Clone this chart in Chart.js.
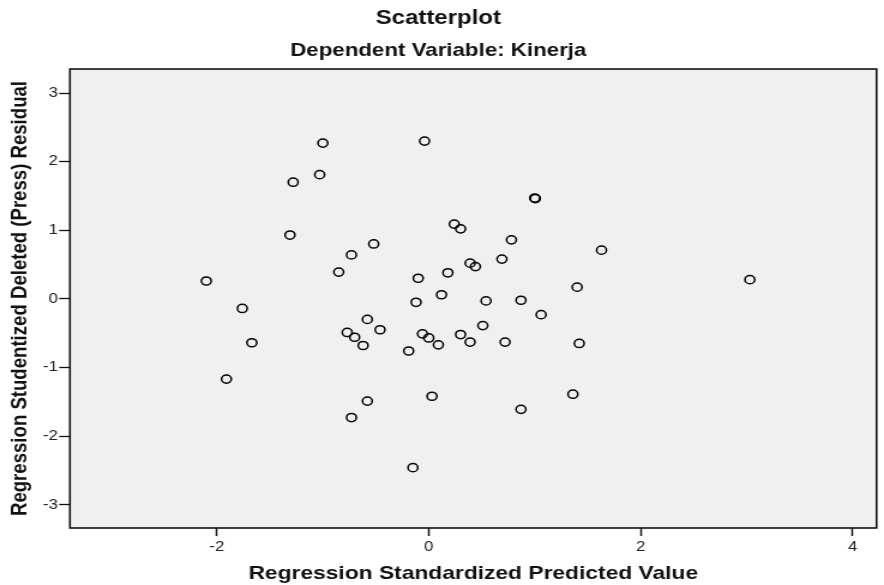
<!DOCTYPE html>
<html>
<head>
<meta charset="utf-8">
<script src="https://cdn.jsdelivr.net/npm/chart.js@4.4.0/dist/chart.umd.min.js"></script>
<style>
    html, body { margin: 0; padding: 0; background: #fff; overflow: hidden; }
    /* the reference picture is stretched sideways, so the canvas is too */
    #wrap { width: 737px; height: 585px; transform: scaleX(1.19946); transform-origin: 0 0; }
</style>
</head>
<body>
<div id="wrap"><canvas id="grafico" width="737" height="585"></canvas></div>
<script>
// Regression Standardized Predicted Value
const xValues = [
    -1.00, -0.04, -1.28, -1.03, -1.31, -0.52, -0.73, -0.85, -2.10, -1.76,
    0.24, 0.30, 0.39, 0.44, -0.10, 0.18, 0.12, -0.12, -0.58, -1.67,
    -1.91, -0.46, -0.77, -0.70, -0.62, -0.19, -0.06, 0.00, 0.09, 0.30,
    0.39, 0.03, -0.58, -0.73, -0.15, 1.00, 1.005, 0.78, 1.63, 0.69,
    0.54, 0.87, 1.40, 3.03, 1.06, 0.51, 0.72, 1.42, 1.36, 0.87,
];
// Regression Studentized Deleted (Press) Residual
const yValues = [
    2.27, 2.30, 1.70, 1.81, 0.93, 0.80, 0.64, 0.39, 0.26, -0.14,
    1.09, 1.02, 0.52, 0.47, 0.30, 0.38, 0.06, -0.05, -0.30, -0.64,
    -1.17, -0.45, -0.49, -0.56, -0.68, -0.76, -0.51, -0.57, -0.67, -0.52,
    -0.63, -1.42, -1.49, -1.73, -2.46, 1.47, 1.46, 0.86, 0.71, 0.58,
    -0.03, -0.02, 0.17, 0.28, -0.23, -0.39, -0.63, -0.65, -1.39, -1.61,
];
const xTicks = [-2, 0, 2, 4];
const yTicks = [-3, -2, -1, 0, 1, 2, 3];

const fontFamily = "'Liberation Sans', Arial, sans-serif";

const points = xValues.map((x, i) => ({ x: x, y: yValues[i] }));

// grey plot area with a black frame round it
const plotFrame = {
    id: "plotFrame",
    beforeDraw(chart) {
        const { ctx, chartArea: a } = chart;
        ctx.save();
        ctx.fillStyle = "#f0f0f0";
        ctx.fillRect(a.left, a.top, a.right - a.left, a.bottom - a.top);
        ctx.restore();
    },
    afterDatasetsDraw(chart) {
        const { ctx, chartArea: a } = chart;
        ctx.save();
        ctx.strokeStyle = "#111";
        ctx.lineWidth = 1.6;
        ctx.strokeRect(a.left, a.top, a.right - a.left, a.bottom - a.top);
        ctx.restore();
    },
};

new Chart(document.getElementById("grafico"), {
    type: "scatter",
    data: {
        datasets: [{
            data: points,
            pointRadius: 4.1,
            pointHoverRadius: 4.1,
            pointBorderWidth: 1.5,
            pointBorderColor: "#000",
            pointBackgroundColor: "rgba(0,0,0,0)",
        }],
    },
    options: {
        responsive: false,
        animation: false,
        layout: { padding: { left: 0, right: 6.2, top: 0, bottom: 0 } },
        scales: {
            x: {
                type: "linear",
                min: -3.387,
                max: 4.226,
                afterBuildTicks: (scale) => { scale.ticks = xTicks.map((v) => ({ value: v })); },
                afterFit: (scale) => { scale.height = 57; },
                border: { display: false },
                grid: { drawOnChartArea: false, drawTicks: true, tickLength: 8, tickColor: "#111", tickWidth: 1.5 },
                ticks: { padding: 3, color: "#222", font: { family: fontFamily, size: 14 } },
                title: {
                    display: true,
                    text: "Regression Standardized Predicted Value",
                    color: "#111",
                    font: { family: fontFamily, size: 19, weight: "bold" },
                    padding: { top: 0, bottom: 0 },
                },
            },
            y: {
                type: "linear",
                min: -3.34,
                max: 3.35,
                afterBuildTicks: (scale) => { scale.ticks = yTicks.map((v) => ({ value: v })); },
                afterFit: (scale) => { scale.width = 58.3; },
                border: { display: false },
                grid: { drawOnChartArea: false, drawTicks: true, tickLength: 9, tickColor: "#111", tickWidth: 1.3 },
                ticks: { padding: 1, color: "#222", font: { family: fontFamily, size: 14 } },
                title: {
                    display: true,
                    text: "Regression Studentized Deleted (Press) Residual",
                    color: "#111",
                    font: { family: fontFamily, size: 18.6, weight: "bold" },
                    padding: { top: 5.5, bottom: 0 },
                },
            },
        },
        plugins: {
            legend: { display: false },
            tooltip: { enabled: false },
            title: {
                display: true,
                text: "Scatterplot",
                color: "#111",
                font: { family: fontFamily, size: 20, weight: "bold" },
                padding: { top: 6, bottom: 2 },
            },
            subtitle: {
                display: true,
                text: "Dependent Variable: Kinerja",
                color: "#111",
                font: { family: fontFamily, size: 18.6, weight: "bold" },
                padding: { top: 7.8, bottom: 6.9 },
            },
        },
    },
    plugins: [plotFrame],
});
</script>
</body>
</html>
